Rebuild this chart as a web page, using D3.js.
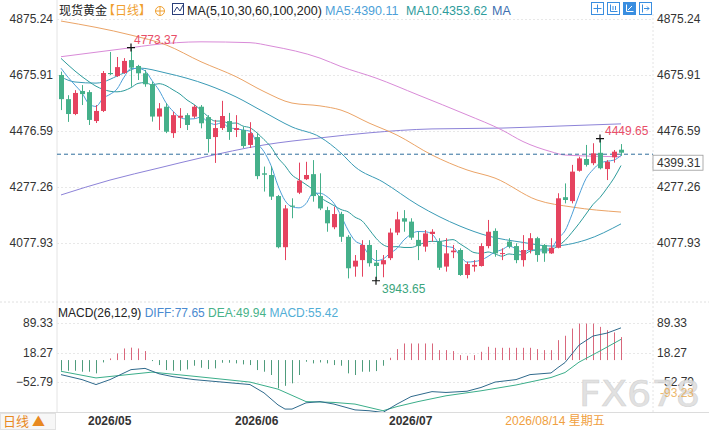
<!DOCTYPE html>
<html>
<head>
<meta charset="utf-8">
<script src="https://cdn.jsdelivr.net/npm/d3@7"></script>
<style>
  body { margin: 0; background: #fff; }
  svg { display: block; font-family: "Liberation Sans", Arial, "Noto Sans CJK SC", sans-serif; }
</style>
</head>
<body>
<svg id="chart" width="709" height="430"></svg>
<script>
// trading days, 2026-04-24 .. 2026-08-14 (weekdays)
const dates = d3.timeDay.range(new Date(2026, 3, 24), new Date(2026, 7, 15))
    .filter(d => d.getDay() !== 0 && d.getDay() !== 6)

const open = [4676,4590,4537,4619,4615,4512,4548,4683,4672,4683,
    4729,4708,4682,4643,4528,4563,4469,4524,4533,4528,
    4563,4526,4455,4487,4512,4480,4480,4427,4455,4326,
    4320,4245,4063,4211,4257,4305,4323,4245,4195,4134,
    4181,4100,3994,4017,4071,4008,4002,4024,4115,4166,
    4154,4089,4065,4110,4083,3994,4045,4053,3964,3994,
    3996,4067,4121,4039,4083,4067,4017,4053,4095,4071,
    4041,4061,4241,4227,4335,4377,4362,4399,4341,4383,4410]
const high = [4688,4604,4622,4640,4622,4569,4690,4758,4740,4736,
    4773.37,4712,4694,4652,4576,4576,4545,4558,4540,4569,
    4569,4533,4516,4584,4541,4533,4491,4508,4470,4350,
    4350,4249,4213,4237,4364,4367,4373,4326,4207,4207,
    4189,4106,4035,4088,4088,4053,4035,4130,4189,4195,
    4166,4118,4124,4127,4095,4095,4071,4059,4011,4017,
    4077,4160,4130,4059,4095,4077,4106,4113,4100,4074,
    4095,4255,4290,4356,4385,4427,4433,4449.65,4373,4409,4430]
const low = [4551,4509,4533,4569,4498,4505,4544,4676,4669,4680,
    4634,4658,4634,4510,4480,4469,4452,4487,4480,4522,
    4486,4400,4363,4480,4445,4455,4416,4416,4305,4261,
    4231,4059,4017,4166,4252,4302,4225,4195,4118,4127,
    4082,3952,3958,3958,3994,3943.65,3956,4017,4106,4118,
    4089,4017,4047,4083,3982,3976,4024,3961,3952,3976,
    3994,4059,4029,4017,4059,4006,3994,4041,4011,4011,
    4039,4059,4219,4219,4332,4350,4355,4340,4302,4364,4388]
const close = [4590,4537,4612,4608,4516,4548,4683,4679,4704,4726,
    4702,4682,4643,4528,4557,4474,4533,4531,4498,4563,
    4504,4448,4487,4530,4473,4487,4423,4469,4316,4321,
    4243,4063,4201,4207,4300,4320,4245,4201,4148,4181,
    4100,3988,4015,4071,4006,3996,4017,4115,4162,4154,
    4097,4067,4112,4118,3990,4041,4051,3964,4003,4000,
    4067,4118,4041,4042,4065,4017,4053,4095,4035,4041,
    4061,4237,4231,4332,4379,4356,4397,4344,4367,4403,4399.31]

// moving averages
const ma5 = [4700,4668,4640,4612,4573,4564,4593,4607,4626,4668,
    4699,4699,4691,4656,4622,4577,4547,4525,4519,4520,
    4526,4509,4500,4506,4488,4485,4480,4476,4434,4403,
    4354,4282,4229,4207,4203,4218,4255,4255,4243,4219,
    4175,4124,4086,4071,4036,4015,4021,4041,4059,4089,
    4109,4119,4118,4110,4077,4066,4062,4033,4010,4012,
    4017,4030,4046,4054,4067,4057,4044,4054,4053,4048,
    4057,4094,4121,4180,4248,4307,4339,4362,4369,4373,4390.11]
const ma10 = [4735,4712,4690,4670,4652,4636,4625,4618,4616,4620,
    4631,4646,4649,4641,4645,4638,4623,4608,4587,4571,
    4551,4528,4512,4512,4504,4505,4494,4488,4470,4446,
    4420,4381,4353,4320,4303,4286,4268,4241,4225,4211,
    4197,4189,4170,4157,4127,4095,4072,4064,4065,4062,
    4062,4070,4080,4084,4083,4087,4090,4075,4059,4044,
    4041,4046,4039,4031,4039,4036,4036,4049,4053,4057,
    4056,4068,4087,4116,4147,4181,4215,4240,4273,4309,4353.62]
const ma30 = [[0,4669],[2,4651],[5,4647],[9,4683],[11,4701],[15,4683],[21,4640],[25,4598],
    [29,4544],[33,4491],[37,4455],[40,4398],[42,4349],[46,4295],[51,4213],[57,4138],
    [61,4103],[66,4080],[70,4067],[75,4089],[80,4146]]
const ma60 = [[0,4868],[10,4818],[15,4783],[20,4723],[25,4670],[29,4617],[33,4576],[37,4566],
    [40,4551],[44,4505],[48,4462],[53,4391],[58,4338],[62,4309],[68,4231],[73,4206],[80,4188]]
const ma100 = [[0,4741],[10,4773],[13,4783],[20,4794],[27,4791],[30,4779],[37,4736],[40,4706],
    [45,4665],[51,4605],[58,4534],[63,4480],[66,4439],[70,4403],[72,4391],[80,4385]]
const ma200 = [[0,4249],[7,4302],[14,4345],[20,4381],[29,4427],[37,4452],[44,4470],[53,4484],
    [63,4487],[71,4494],[80,4502]]

// MACD(26,12,9)
const macdHist = [-25.7,-25.7,-25.7,-28,-28,-32,-5.6,4,16,28,
    30,28,21.7,-2.4,-12,-24,-25.7,-25.7,-22.5,-13.6,
    -18.5,-21.7,-20,-6.4,-6.4,-8,-10.4,-12,-24,-28,
    -36,-68,-62,-56,-36,-4,-8,-5.6,-8,-12,
    -13.6,-32,-36,-28,-28,-26.5,-13.6,5.6,26.5,40,
    40,40,40,40,24,24,21.7,12,10.4,12,
    20,32,29.6,29.6,29.6,29.6,29.6,29.6,26.5,24,
    24,48,58.6,76,88,88,88,80,72,66.6,55.42]
const diffLine = [[0,-35],[3,-47],[5,-59],[7,-47],[10,-23],[12,-20],[14,-33],[16,-40],[19,-47],
    [23,-53],[27,-59],[29,-79],[31,-108],[32,-118],[33,-118],[35,-103],[37,-100],[39,-106],
    [42,-120],[44,-122],[46,-126],[48,-106],[50,-88],[53,-76],[55,-78],[58,-75],[60,-66],
    [62,-53],[65,-47],[67,-35],[70,-31],[71,-18],[72,-6],[74,36],[76,58],[78,65],[80,77.65]]
const deaLine = [[0,-27],[5,-43],[9,-36],[13,-29],[19,-39],[27,-53],[31,-70],[33,-85],[35,-100],
    [39,-102],[42,-106],[46,-122],[48,-112],[51,-100],[55,-86],[60,-74],[65,-60],[70,-42],
    [72,-30],[74,-5],[77,22],[80,49.94]]

const priceTicks = [4875.24, 4675.91, 4476.59, 4277.26, 4077.93]
const macdTicks = [89.33, 18.27, -52.79]
const lastPrice = 4399.31

const upColor = '#e5435f'
const downColor = '#45b08a'

const svg = d3.select('#chart')

const x = d3.scaleLinear().domain([0, 80]).range([61, 621])
const y = d3.scaleLinear().domain([4077.93, 4875.24]).range([243, 19])
const ym = d3.scaleLinear().domain([-52.79, 89.33]).range([382, 323])

const plotL = 57, plotR = 653

const defs = svg.append('defs')
defs.append('clipPath').attr('id', 'clipMain')
    .append('rect').attr('x', plotL).attr('y', 14).attr('width', plotR - plotL).attr('height', 288)
defs.append('clipPath').attr('id', 'clipMacd')
    .append('rect').attr('x', plotL).attr('y', 302).attr('width', plotR - plotL).attr('height', 110)

// frame lines
svg.append('line').attr('x1', plotL).attr('x2', plotL).attr('y1', 0).attr('y2', 412)
    .style('stroke', '#e4e4e4')
svg.append('line').attr('x1', plotR).attr('x2', plotR).attr('y1', 14).attr('y2', 412)
    .style('stroke', '#e4e4e4').style('stroke-dasharray', '2,2')
svg.append('line').attr('x1', 0).attr('x2', 709).attr('y1', 302).attr('y2', 302)
    .style('stroke', '#e0e0e0').style('stroke-dasharray', '2,2')
svg.append('line').attr('x1', 0).attr('x2', 709).attr('y1', 412.5).attr('y2', 412.5)
    .style('stroke', '#dcdcdc')

// grid
svg.append('g').selectAll('line').data(priceTicks).join('line')
    .attr('x1', plotL).attr('x2', plotR)
    .attr('y1', d => Math.round(y(d)) + 0.5).attr('y2', d => Math.round(y(d)) + 0.5)
    .style('stroke', '#e8e8e8').style('stroke-dasharray', '2,2')
svg.append('g').selectAll('line').data(macdTicks).join('line')
    .attr('x1', plotL).attr('x2', plotR)
    .attr('y1', d => Math.round(ym(d)) + 0.5).attr('y2', d => Math.round(ym(d)) + 0.5)
    .style('stroke', '#e8e8e8').style('stroke-dasharray', '2,2')

// axes
function styleAxis(g) {
    g.select('.domain').remove()
    g.selectAll('text').style('font-size', '12px').style('fill', '#333')
        .style('font-family', '"Liberation Sans", Arial, sans-serif')
}
const fmt = d3.format('.2f')
svg.append('g').attr('transform', 'translate(53,0)')
    .call(d3.axisLeft(y).tickValues(priceTicks).tickSize(0).tickPadding(0).tickFormat(fmt))
    .call(styleAxis)
svg.append('g').attr('transform', 'translate(657,0)')
    .call(d3.axisRight(y).tickValues(priceTicks).tickSize(0).tickPadding(0).tickFormat(fmt))
    .call(styleAxis)
svg.append('g').attr('transform', 'translate(53,0)')
    .call(d3.axisLeft(ym).tickValues(macdTicks).tickSize(0).tickPadding(0).tickFormat(fmt))
    .call(styleAxis)
svg.append('g').attr('transform', 'translate(657,0)')
    .call(d3.axisRight(ym).tickValues(macdTicks).tickSize(0).tickPadding(0).tickFormat(fmt))
    .call(styleAxis)

// main panel
const main = svg.append('g').attr('clip-path', 'url(#clipMain)')

const maLine = d3.line().x(d => x(d[0])).y(d => y(d[1])).curve(d3.curveMonotoneX)
const maSeries = [
    { pts: ma200, color: '#8d83d8' },
    { pts: ma100, color: '#d98bd8' },
    { pts: ma60, color: '#eba467' },
    { pts: ma30, color: '#3a9bb6' },
    { pts: ma10.map((v, i) => [i, v]), color: '#2e9c9c' },
    { pts: ma5.map((v, i) => [i, v]), color: '#4d9fd8' }
]
main.selectAll('path.ma').data(maSeries).join('path')
    .attr('class', 'ma')
    .attr('d', d => maLine(d.pts))
    .style('fill', 'none')
    .style('stroke', d => d.color)
    .style('stroke-width', 1)

// last price dashed line
main.append('line')
    .attr('x1', plotL).attr('x2', plotR)
    .attr('y1', y(lastPrice) + 1.5).attr('y2', y(lastPrice) + 1.5)
    .style('stroke', '#2f6e9c').style('stroke-dasharray', '4,3').style('stroke-width', 1)

// candles
const candles = main.append('g').selectAll('g').data(d3.range(dates.length)).join('g')
candles.append('line')
    .attr('x1', i => Math.round(x(i)) + 0.5).attr('x2', i => Math.round(x(i)) + 0.5)
    .attr('y1', i => y(high[i])).attr('y2', i => y(low[i]))
    .style('stroke', i => close[i] >= open[i] ? upColor : downColor)
candles.append('rect')
    .attr('x', i => Math.round(x(i)) - 2)
    .attr('width', 5)
    .attr('y', i => y(Math.max(open[i], close[i])))
    .attr('height', i => Math.max(1, Math.abs(y(open[i]) - y(close[i]))))
    .style('fill', i => close[i] >= open[i] ? upColor : downColor)

// high / low markers
const hiIdx = d3.maxIndex(high), loIdx = d3.minIndex(low)
const hi2Idx = d3.maxIndex(high.slice(60)) + 60
function marker(i, v, color, dx, dy) {
    const cx = x(i), cy = y(v)
    svg.append('path')
        .attr('d', `M${cx - 4},${cy}H${cx + 4}M${cx},${cy - 4}V${cy + 4}`)
        .style('stroke', '#111').style('stroke-width', 1.2)
    svg.append('text').attr('x', cx + dx).attr('y', cy + dy)
        .text(fmt(v)).style('font-size', '12px').style('fill', color)
}
marker(hiIdx, high[hiIdx], '#e84e68', 3, -4)
marker(hi2Idx, high[hi2Idx], '#e84e68', 5, -4)
marker(loIdx, low[loIdx], '#3ba57c', 6, 12)

// last price tag
svg.append('rect').attr('x', 653).attr('y', y(lastPrice) + 2.5).attr('width', 50).attr('height', 15)
    .style('fill', '#fff').style('stroke', '#9a9a9a').style('stroke-width', 0.8)
svg.append('text').attr('x', 657).attr('y', y(lastPrice) + 14.5)
    .text(fmt(lastPrice)).style('font-size', '12px').style('fill', '#333')

// MACD panel
const mp = svg.append('g').attr('clip-path', 'url(#clipMacd)')
mp.append('g').selectAll('line').data(macdHist).join('line')
    .attr('x1', (d, i) => Math.round(x(i)) + 0.5).attr('x2', (d, i) => Math.round(x(i)) + 0.5)
    .attr('y1', ym(0)).attr('y2', d => ym(d))
    .style('stroke', d => d >= 0 ? '#d9677c' : '#4f9c7c')
    .style('stroke-width', 1)
const mLine = d3.line().x(d => x(d[0])).y(d => ym(d[1]))
mp.append('path').attr('d', mLine(deaLine))
    .style('fill', 'none').style('stroke', '#3bae8a').style('stroke-width', 1)
mp.append('path').attr('d', mLine(diffLine))
    .style('fill', 'none').style('stroke', '#2f6a8c').style('stroke-width', 1)

// watermark
svg.append('text').attr('x', 579).attr('y', 406).text('FX678')
    .attr('textLength', 121).attr('lengthAdjust', 'spacingAndGlyphs')
    .style('font-size', '36px')
    .style('font-family', '"DejaVu Sans", sans-serif')
    .style('fill', '#dedede').style('stroke', '#cfcfcf').style('stroke-width', 0.6)
    .style('opacity', 0.9)
svg.append('text').attr('x', 660).attr('y', 397).text('-93.23')
    .style('font-size', '12px').style('fill', '#e8a23c').style('opacity', 0.75)

// date axis (the August label is hidden under the cursor date)
const monthStarts = d3.range(1, dates.length)
    .filter(i => dates[i].getMonth() !== dates[i - 1].getMonth())
    .filter(i => x(i) < x(dates.length - 1) - 130)
svg.append('g').selectAll('text').data(monthStarts).join('text')
    .attr('x', i => x(i) - 8).attr('y', 425)
    .text(i => d3.timeFormat('%Y/%m')(dates[i]))
    .style('font-size', '12px').style('font-weight', 'bold').style('fill', '#333')

const lastDate = dates[dates.length - 1]
const weekNames = ['星期日', '星期一', '星期二', '星期三', '星期四', '星期五', '星期六']
svg.append('text').attr('x', x(80) - 66).attr('y', 425).attr('text-anchor', 'middle')
    .text(d3.timeFormat('%Y/%m/%d')(lastDate) + ' ' + weekNames[lastDate.getDay()])
    .style('font-size', '12px').style('fill', '#f0a040')

svg.append('rect').attr('x', 0.5).attr('y', 413.5).attr('width', 55).attr('height', 16)
    .style('fill', '#f7f7f7').style('stroke', '#e2e2e2')
svg.append('text').attr('x', 3).attr('y', 426).text('日线 ▲')
    .style('font-size', '13px').style('fill', '#e8891f')
    .style('font-family', '"Noto Sans CJK SC", sans-serif')

// top legend
const cjk = '"Noto Sans CJK SC", sans-serif'
svg.append('text').attr('x', 59).attr('y', 15).text('现货黄金')
    .style('font-size', '12px').style('fill', '#222').style('font-family', cjk)
svg.append('text').attr('x', 103).attr('y', 15).text('【日线】')
    .style('font-size', '12px').style('fill', '#f0a030').style('font-family', cjk)
svg.append('circle').attr('cx', 160).attr('cy', 11).attr('r', 4.5)
    .style('fill', 'none').style('stroke', '#f0a030')
svg.append('path').attr('d', 'M155.5,11H164.5M160,6.5V15.5').style('stroke', '#f0a030')
svg.append('rect').attr('x', 172.5).attr('y', 3.5).attr('width', 11).attr('height', 11)
    .style('fill', '#fff').style('stroke', '#2b3f7a')
svg.append('path').attr('d', 'M174,12L177,7L180,11L183,5').style('fill', 'none').style('stroke', '#2b3f7a')
svg.append('text').attr('x', 187).attr('y', 15).text('MA(5,10,30,60,100,200)')
    .style('font-size', '12.5px').style('fill', '#222')
svg.append('text').attr('x', 325).attr('y', 15).text('MA5:' + fmt(ma5[80]))
    .style('font-size', '12.5px').style('fill', '#4d9fd8')
svg.append('text').attr('x', 406).attr('y', 15).text('MA10:' + fmt(ma10[80]))
    .style('font-size', '12.5px').style('fill', '#2e9c9c')
svg.append('text').attr('x', 492).attr('y', 15).text('MA')
    .style('font-size', '12.5px').style('fill', '#3d6fb0')

// MACD legend
const ml = svg.append('text').attr('x', 58).attr('y', 317).style('font-size', '12px')
ml.append('tspan').text('MACD(26,12,9) ').style('fill', '#222')
ml.append('tspan').text('DIFF:' + fmt(diffLine[diffLine.length - 1][1]) + '  ').style('fill', '#4a8ad0')
ml.append('tspan').text('DEA:' + fmt(deaLine[deaLine.length - 1][1]) + '  ').style('fill', '#47b289')
ml.append('tspan').text('MACD:' + fmt(macdHist[80])).style('fill', '#52aed6')

// toolbar icons
const icons = svg.append('g').selectAll('g').data([0, 1, 2, 3]).join('g')
    .attr('transform', d => `translate(${591 + d * 16},2)`)
icons.append('rect').attr('x', 0.5).attr('y', 0.5).attr('width', 12).attr('height', 12)
    .style('fill', d => d === 2 ? '#3a8ee0' : '#fff').style('stroke', '#3a8ee0')
icons.append('path')
    .attr('d', d => [
        'M6.5,2.5V10.5M2.5,6.5H10.5',
        'M3.5,2.5V9.5H10.5M6,4V8M8.5,4V8',
        'M3.5,2.5V9.5H10.5M5,8L9,4',
        'M3.5,2.5V10.5M5,6.5H10M8,4.5L10,6.5L8,8.5'
    ][d])
    .style('fill', 'none').style('stroke', d => d === 2 ? '#fff' : '#3a8ee0')
</script>
</body>
</html>
